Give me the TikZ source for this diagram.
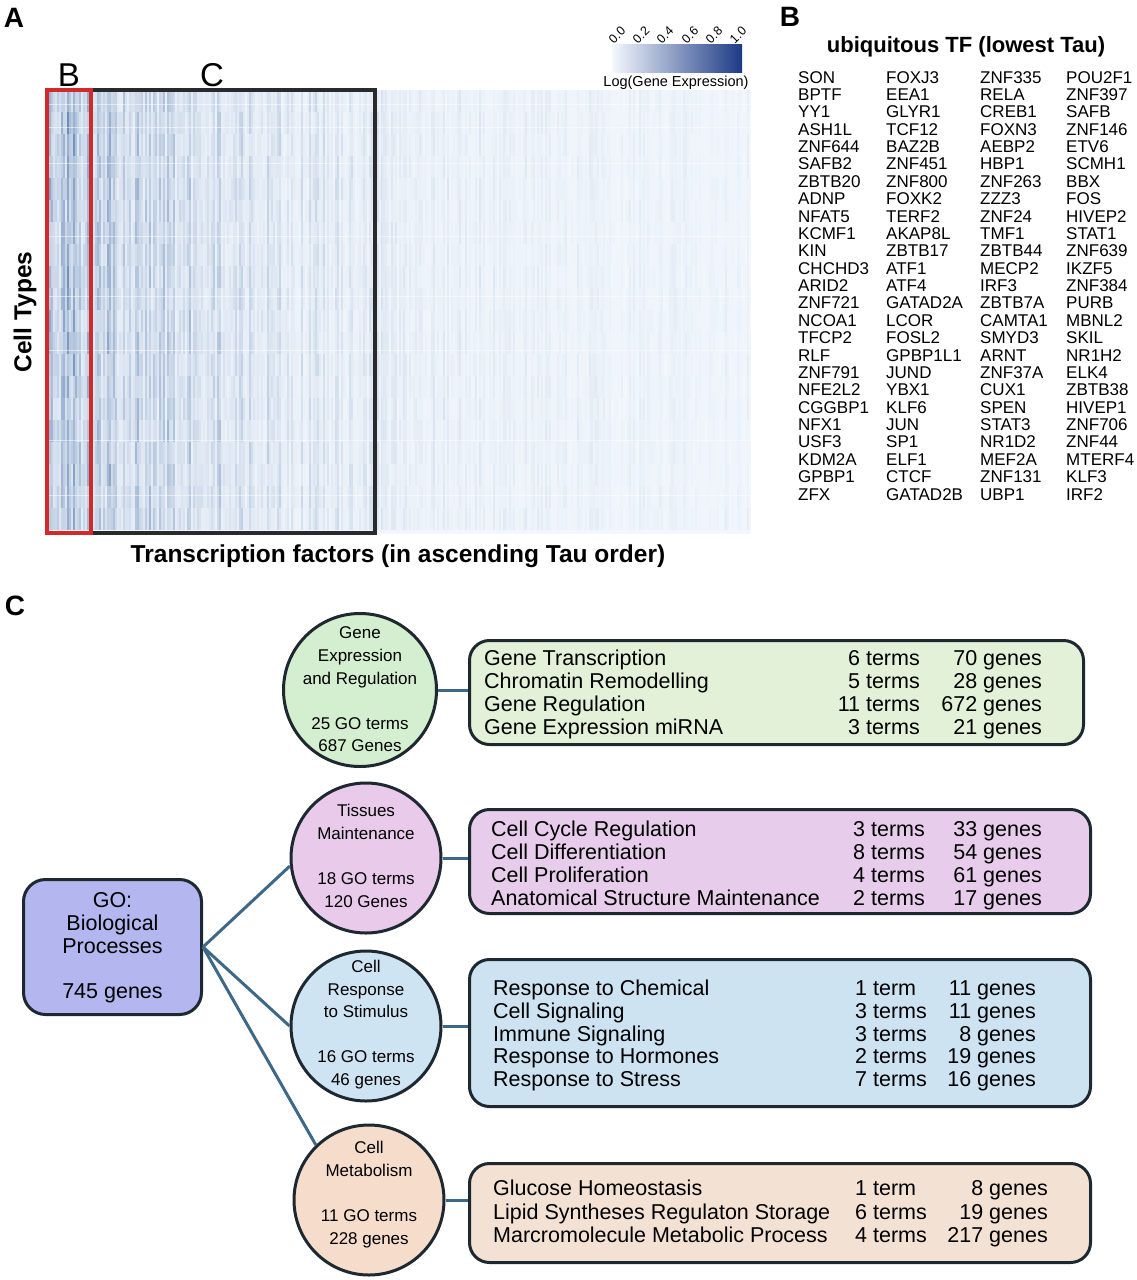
\documentclass[tikz,border=0pt]{standalone}
\usepackage{fontspec}
\setmainfont{Liberation Sans}
\definecolor{hm}{HTML}{2A5797}
\definecolor{hmbg}{HTML}{F2F7FC}
\definecolor{cbA}{HTML}{F4F8FD}
\definecolor{cbM}{HTML}{7098CC}
\definecolor{cbB}{HTML}{1C3A86}
\definecolor{bord}{HTML}{1E2830}
\definecolor{conn}{HTML}{3E6888}
\definecolor{gcirc}{HTML}{D4EFCF}
\definecolor{gbox}{HTML}{E3F1D8}
\definecolor{pcirc}{HTML}{E9CAEB}
\definecolor{pbox}{HTML}{E7CDEB}
\definecolor{bcirc}{HTML}{CFE4F3}
\definecolor{bbox}{HTML}{CDE3F1}
\definecolor{ocirc}{HTML}{F6DDCB}
\definecolor{obox}{HTML}{F3E2D4}
\definecolor{gofill}{HTML}{B4B6F0}
\definecolor{redbox}{HTML}{D22A2A}
\definecolor{blkbox}{HTML}{2A2A2A}
\begin{document}
\begin{tikzpicture}[x=1pt,y=-1pt,
  panel/.style={inner sep=0pt, font=\bfseries\fontsize{28}{28}\selectfont},
  axtitle/.style={inner sep=0pt, font=\bfseries\fontsize{24.5}{24.5}\selectfont},
  tf/.style={anchor=base west, inner sep=0pt, font=\fontsize{17}{17}\selectfont},
  circ/.style={circle, draw=bord, line width=3pt, minimum size=150pt, inner sep=0pt},
  ctext/.style={align=center, inner sep=0pt, font=\fontsize{17}{22.6}\selectfont},
  rbox/.style={draw=bord, line width=3pt, rounded corners=20pt, inner sep=0pt},
  rowtxt/.style={inner sep=0pt, font=\fontsize{21.5}{23}\selectfont},
  conn/.style={draw=conn, line width=3pt}]
\useasboundingbox (0,0) rectangle (1137,1280);
\fill[white] (0,0) rectangle (1137,1280);

% ---------- Panel A: heatmap ----------
\node[panel] (lA) at (14,18) {A};
\fill[hmbg] (47,90) rectangle (751,534);
\pgfmathsetseed{11}
\foreach \xx in {47,49,...,749}{%
  \pgfmathsetmacro\fx{0.55*exp(-(\xx-47)/170)+0.04}%
  \pgfmathsetmacro\cc{\fx*(0.25+0.75*rnd^2)}%
  \foreach \yy in {90,112,...,512}{%
    \pgfmathtruncatemacro\pct{min(100,100*\cc*(0.55+0.9*rnd))}%
    \fill[hm!\pct!hmbg] (\xx,\yy) rectangle ++(2,22);
  }
}
\foreach \yy in {104,127,163,236,296,350,440,495}{%
  \draw[white, line width=0.8pt, opacity=0.5] (47,\yy) -- (751,\yy);
}
\draw[blkbox, line width=3.5pt] (91,90) rectangle (375,533);
\draw[redbox, line width=3.5pt] (47,90) rectangle (91,533);
\node[inner sep=0pt, font=\fontsize{33}{33}\selectfont] (hB) at (69,75) {B};
\node[inner sep=0pt, font=\fontsize{33}{33}\selectfont] (hC) at (212,75) {C};
\node[axtitle, rotate=90] (ct) at (25,312) {Cell Types};
\node[axtitle] (tfx) at (398,556) {Transcription factors (in ascending Tau order)};

% colour bar
\shade[left color=cbA, middle color=cbM, right color=cbB] (612,44) rectangle (742,72);
\foreach \v/\xx [count=\i] in {0.0/617,0.2/641,0.4/665,0.6/690,0.8/714,1.0/738}{%
  \node[inner sep=0pt, rotate=45, font=\fontsize{12.5}{12.5}\selectfont] (tk\i) at (\xx,35) {\v};
}
\node[inner sep=0pt, font=\fontsize{14.5}{14.5}\selectfont] (cbl) at (676,83) {Log(Gene Expression)};

% ---------- Panel B: list ----------
\node[panel] (lB) at (790,17) {B};
\node[inner sep=0pt, font=\bfseries\fontsize{22}{22}\selectfont] (tfh) at (966,47) {ubiquitous TF (lowest Tau)};
\foreach \nm [count=\i from 0] in {SON,BPTF,YY1,ASH1L,ZNF644,SAFB2,ZBTB20,ADNP,NFAT5,KCMF1,KIN,CHCHD3,ARID2,ZNF721,NCOA1,TFCP2,RLF,ZNF791,NFE2L2,CGGBP1,NFX1,USF3,KDM2A,GPBP1,ZFX}{%
  \node[tf] (tfa\i) at (798,{83.1+17.375*\i}) {\nm};}
\foreach \nm [count=\i from 0] in {FOXJ3,EEA1,GLYR1,TCF12,BAZ2B,ZNF451,ZNF800,FOXK2,TERF2,AKAP8L,ZBTB17,ATF1,ATF4,GATAD2A,LCOR,FOSL2,GPBP1L1,JUND,YBX1,KLF6,JUN,SP1,ELF1,CTCF,GATAD2B}{%
  \node[tf] (tfb\i) at (886,{83.1+17.375*\i}) {\nm};}
\foreach \nm [count=\i from 0] in {ZNF335,RELA,CREB1,FOXN3,AEBP2,HBP1,ZNF263,ZZZ3,ZNF24,TMF1,ZBTB44,MECP2,IRF3,ZBTB7A,CAMTA1,SMYD3,ARNT,ZNF37A,CUX1,SPEN,STAT3,NR1D2,MEF2A,ZNF131,UBP1}{%
  \node[tf] (tfc\i) at (980,{83.1+17.375*\i}) {\nm};}
\foreach \nm [count=\i from 0] in {POU2F1,ZNF397,SAFB,ZNF146,ETV6,SCMH1,BBX,FOS,HIVEP2,STAT1,ZNF639,IKZF5,ZNF384,PURB,MBNL2,SKIL,NR1H2,ELK4,ZBTB38,HIVEP1,ZNF706,ZNF44,MTERF4,KLF3,IRF2}{%
  \node[tf] (tfd\i) at (1066,{83.1+17.375*\i}) {\nm};}

% ---------- Panel C ----------
\node[panel] (lC) at (15,606) {C};

\node[draw=bord, line width=3pt, rounded corners=22pt, fill=gofill, minimum width=178pt, minimum height=135pt, inner sep=0pt] (go) at (112.5,947) {};
\node[ctext, font=\fontsize{21.5}{22.7}\selectfont] (got) at (112.5,948) {GO:\\Biological\\Processes\\[22.7pt]745 genes};

\node[circ, fill=gcirc, minimum size=153pt] (ge) at (360,690) {};
\node[ctext] (get) at (360,689.5) {Gene\\Expression\\and Regulation\\[22.6pt]25 GO terms\\687 Genes};
\node[circ, fill=pcirc] (tm) at (366,858) {};
\node[ctext] (tmt) at (366,856) {Tissues\\Maintenance\\[22.6pt]18 GO terms\\120 Genes};
\node[circ, fill=bcirc] (cr) at (366,1026) {};
\node[ctext] (crt) at (366,1024.5) {Cell\\Response\\to Stimulus\\[22.6pt]16 GO terms\\46 genes};
\node[circ, fill=ocirc] (cm) at (369,1200) {};
\node[ctext] (cmt) at (369,1194.5) {Cell\\Metabolism\\[22.6pt]11 GO terms\\228 genes};

\node[rbox, fill=gbox, minimum width=614pt, minimum height=104pt] (gb) at (776.5,692.5) {};
\node[rbox, fill=pbox, minimum width=621pt, minimum height=104pt] (pb) at (780,861.5) {};
\node[rbox, fill=bbox, minimum width=621pt, minimum height=147pt] (bb) at (780,1033) {};
\node[rbox, fill=obox, minimum width=621pt, minimum height=99pt] (ob) at (780,1213) {};

% connectors
\draw[conn] (go.east) -- (tm.186);
\draw[conn] (go.east) -- (cr.west);
\draw[conn] (go.east) -- (cm.134);
\draw[conn] (ge.east) -- (ge.east -| gb.west);
\draw[conn] (tm.east) -- (tm.east -| pb.west);
\draw[conn] (cr.east) -- (cr.east -| bb.west);
\draw[conn] (cm.east) -- (cm.east -| ob.west);

% box rows
\foreach \nm/\tm/\gn [count=\i from 0] in {Gene Transcription/6 terms/70 genes,Chromatin Remodelling/5 terms/28 genes,Gene Regulation/11 terms/672 genes,Gene Expression miRNA/3 terms/21 genes}{%
  \node[rowtxt, anchor=base west] (gn\i) at (484,{665.7+23*\i}) {\nm};
  \node[rowtxt, anchor=base east] (gt\i) at (920,{665.7+23*\i}) {\tm};
  \node[rowtxt, anchor=base east] (gg\i) at (1042,{665.7+23*\i}) {\gn};}
\foreach \nm/\tm/\gn [count=\i from 0] in {Cell Cycle Regulation/3 terms/33 genes,Cell Differentiation/8 terms/54 genes,Cell Proliferation/4 terms/61 genes,Anatomical Structure Maintenance/2 terms/17 genes}{%
  \node[rowtxt, anchor=base west] (pn\i) at (491,{836.7+23*\i}) {\nm};
  \node[rowtxt, anchor=base west] (pt\i) at (853,{836.7+23*\i}) {\tm};
  \node[rowtxt, anchor=base east] (pg\i) at (1042,{836.7+23*\i}) {\gn};}
\foreach \nm/\tm/\gn [count=\i from 0] in {Response to Chemical/1 term/11 genes,Cell Signaling/3 terms/11 genes,Immune Signaling/3 terms/8 genes,Response to Hormones/2 terms/19 genes,Response to Stress/7 terms/16 genes}{%
  \node[rowtxt, anchor=base west] (bn\i) at (493,{995.7+22.75*\i}) {\nm};
  \node[rowtxt, anchor=base west] (bt\i) at (855,{995.7+22.75*\i}) {\tm};
  \node[rowtxt, anchor=base east] (bg\i) at (1036,{995.7+22.75*\i}) {\gn};}
\foreach \nm/\tm/\gn [count=\i from 0] in {Glucose Homeostasis/1 term/8 genes,Lipid Syntheses Regulaton Storage/6 terms/19 genes,Marcromolecule Metabolic Process/4 terms/217 genes}{%
  \node[rowtxt, anchor=base west] (on\i) at (493,{1195.7+23.5*\i}) {\nm};
  \node[rowtxt, anchor=base west] (ot\i) at (855,{1195.7+23.5*\i}) {\tm};
  \node[rowtxt, anchor=base east] (og\i) at (1048,{1195.7+23.5*\i}) {\gn};}
\end{tikzpicture}
\end{document}
